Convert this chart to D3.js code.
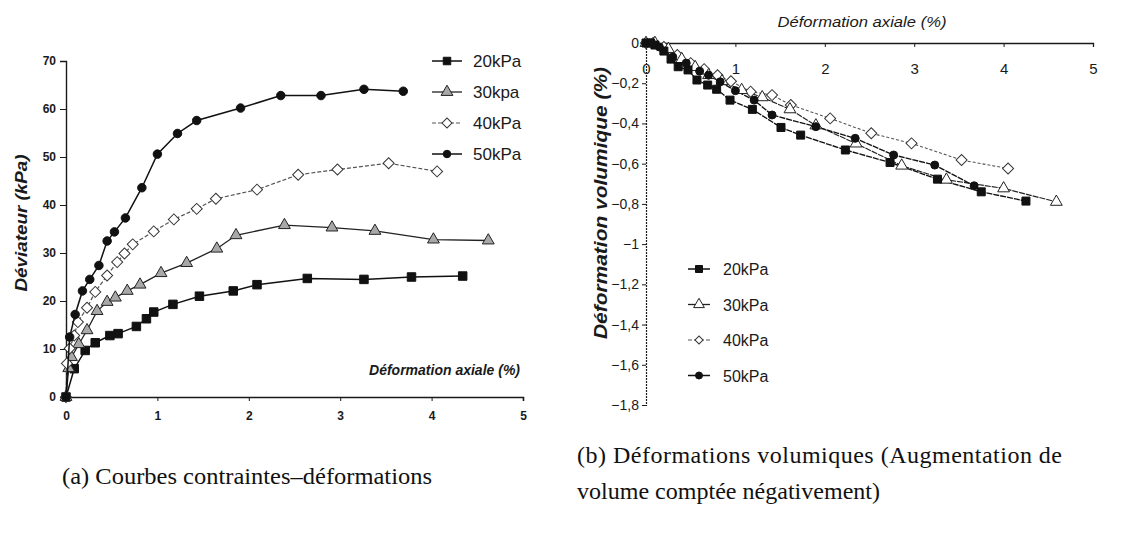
<!DOCTYPE html>
<html><head><meta charset="utf-8">
<script src="https://cdn.jsdelivr.net/npm/d3@7"></script>
<style>
html,body{margin:0;padding:0;background:#fff;}
svg{display:block;}
</style></head>
<body>
<svg id="c" width="1147" height="533"></svg>
<script>
// ---------- DATA ----------
const seriesNames = ["20kPa","30kpa","40kPa","50kPa"];
const seriesNamesB = ["20kPa","30kPa","40kPa","50kPa"];
const xTicks = [0,1,2,3,4,5];
const yTicksA = [0,10,20,30,40,50,60,70];
const yTicksB = [0,-0.2,-0.4,-0.6,-0.8,-1,-1.2,-1.4,-1.6,-1.8];

// (a) deviator stress (kPa) vs axial strain (%)
const a20 = [[0,0],[0.09,5.9],[0.21,9.7],[0.32,11.3],[0.48,12.8],[0.57,13.2],[0.77,14.7],[0.88,16.3],[0.96,17.7],[1.17,19.3],[1.46,21.0],[1.83,22.1],[2.09,23.4],[2.64,24.7],[3.26,24.5],[3.78,25.0],[4.34,25.2]];
const a30 = [[0,0],[0.03,6.0],[0.06,8.3],[0.14,11.0],[0.23,13.9],[0.34,17.9],[0.45,19.8],[0.54,20.7],[0.67,22.1],[0.81,23.4],[1.04,25.8],[1.32,27.9],[1.65,30.9],[1.86,33.7],[2.39,35.8],[2.91,35.3],[3.38,34.6],[4.02,32.8],[4.62,32.6]];
const a40 = [[0,0],[0.01,7.0],[0.04,10.1],[0.09,12.8],[0.13,15.6],[0.23,18.6],[0.32,21.9],[0.45,25.3],[0.56,28.1],[0.64,29.9],[0.73,31.8],[0.96,34.5],[1.18,37.0],[1.43,39.2],[1.64,41.3],[2.09,43.2],[2.54,46.3],[2.97,47.4],[3.53,48.7],[4.06,47.0]];
const a50 = [[0,0],[0.04,12.5],[0.10,17.2],[0.18,22.1],[0.26,24.5],[0.36,27.4],[0.45,32.5],[0.53,34.4],[0.65,37.3],[0.83,43.6],[1.0,50.6],[1.22,54.9],[1.43,57.6],[1.91,60.2],[2.35,62.8],[2.79,62.8],[3.26,64.1],[3.69,63.7]];

// (b) volumetric strain (%) vs axial strain (%)
const b20 = [[0,0],[0.05,0],[0.1,-0.01],[0.2,-0.04],[0.28,-0.08],[0.36,-0.118],[0.47,-0.134],[0.57,-0.184],[0.69,-0.209],[0.79,-0.23],[0.94,-0.284],[1.19,-0.33],[1.51,-0.42],[1.73,-0.458],[2.23,-0.532],[2.73,-0.594],[3.26,-0.677],[3.75,-0.74],[4.25,-0.786]];
const b30 = [[0,0],[0.1,0],[0.25,-0.03],[0.4,-0.08],[0.55,-0.12],[0.7,-0.16],[0.85,-0.19],[1.07,-0.234],[1.3,-0.27],[1.61,-0.33],[1.9,-0.41],[2.35,-0.5],[2.86,-0.61],[3.36,-0.68],[4.0,-0.723],[4.59,-0.79]];
const b40 = [[0,0],[0.08,0],[0.2,-0.02],[0.35,-0.06],[0.5,-0.1],[0.65,-0.13],[0.8,-0.16],[0.95,-0.19],[1.17,-0.242],[1.41,-0.259],[1.62,-0.308],[2.06,-0.375],[2.52,-0.449],[2.97,-0.499],[3.53,-0.582],[4.05,-0.624]];
const b50 = [[0,0],[0.05,0],[0.15,-0.02],[0.3,-0.07],[0.45,-0.1],[0.6,-0.14],[0.7,-0.16],[0.83,-0.193],[1.0,-0.237],[1.21,-0.284],[1.41,-0.358],[1.9,-0.416],[2.34,-0.474],[2.77,-0.557],[3.23,-0.607],[3.67,-0.71]];

const captionA = "(a) Courbes contraintes\u2013déformations";
const captionB1 = "(b) Déformations volumiques (Augmentation de";
const captionB2 = "volume comptée négativement)";
const xTitle = "Déformation axiale (%)";
const yTitleA = "Déviateur (kPa)";
const yTitleB = "Déformation volumique (%)";

// ---------- DRAW ----------
const svg = d3.select("#c");
const SANS = "'Liberation Sans', Arial, sans-serif";
const NARROW = "'Liberation Sans Narrow', 'Liberation Sans', Arial, sans-serif";
const SERIF = "'Liberation Serif', 'Times New Roman', serif";
const ink = "#1a1a1a";

const styles = [
  {shape:"square", fill:"#111", dash:null, stroke:"#111", sw:1.5},
  {shape:"triangle", fill:"#a8a8a8", dash:null, stroke:"#222", sw:1.3},
  {shape:"diamond", fill:"#fff", dash:"4,2", stroke:"#555", sw:1.2},
  {shape:"circle", fill:"#111", dash:null, stroke:"#111", sw:1.5}
];

function marker(g, shape, x, y, s, fill, stroke){
  let p;
  if(shape==="square") p = d3.symbol(d3.symbolSquare, s*s);
  else if(shape==="circle") p = d3.symbol(d3.symbolCircle, Math.PI*(s/2)*(s/2));
  else if(shape==="triangle") p = d3.symbol(d3.symbolTriangle, s*s*0.5);
  else p = d3.symbol(d3.symbolSquare, (s/1.414)*(s/1.414));
  g.append("path").attr("d", p())
    .attr("transform", `translate(${x},${y})` + (shape==="diamond"?" rotate(45)":""))
    .attr("fill", fill).attr("stroke", stroke).attr("stroke-width", 1);
}

// ===== Chart (a) =====
const xA = d3.scaleLinear().domain([0,5]).range([66,523]);
const yA = d3.scaleLinear().domain([0,70]).range([397,61]);
const gA = svg.append("g");

const axA_y = d3.axisLeft(yA).tickValues(yTicksA).tickSize(6).tickPadding(4).tickFormat(d3.format("d"));
gA.append("g").attr("transform","translate(66,0)").call(axA_y)
  .call(g=>{g.select(".domain").attr("stroke",ink).attr("stroke-width",1.4);
    g.selectAll(".tick line").attr("stroke",ink);
    g.selectAll("text").attr("font-family",SANS).attr("font-weight","bold").attr("font-size",12).attr("fill",ink);});
const axA_x = d3.axisBottom(xA).tickValues(xTicks).tickSize(4).tickPadding(10).tickFormat(d3.format("d"));
gA.append("g").attr("transform","translate(0,397)").call(axA_x)
  .call(g=>{g.select(".domain").attr("stroke",ink).attr("stroke-width",1.6);
    g.selectAll(".tick line").attr("stroke",ink);
    g.selectAll("text").attr("font-family",SANS).attr("font-weight","bold").attr("font-size",12).attr("fill",ink);});

gA.append("text").attr("x",520).attr("y",375).attr("text-anchor","end")
  .attr("font-family",SANS).attr("font-weight","bold").attr("font-style","italic")
  .attr("font-size",14).attr("fill",ink).text(xTitle);
gA.append("text").attr("transform","translate(27,223) rotate(-90)").attr("text-anchor","middle")
  .attr("font-family",SANS).attr("font-weight","bold").attr("font-style","italic")
  .attr("font-size",17).attr("textLength",137).attr("lengthAdjust","spacingAndGlyphs")
  .attr("fill",ink).text(yTitleA);

const lineA = d3.line().x(d=>xA(d[0])).y(d=>yA(d[1]));
[a20,a30,a40,a50].forEach((data,i)=>{
  const st = styles[i];
  gA.append("path").datum(data).attr("d",lineA).attr("fill","none")
    .attr("stroke",st.stroke).attr("stroke-width",st.sw).attr("stroke-dasharray",st.dash);
  const mg = gA.append("g");
  data.forEach(d=>marker(mg, st.shape, xA(d[0]), yA(d[1]), st.shape==="triangle"?11:(st.shape==="diamond"?11:8.5), st.fill, st.stroke==="#555"?"#333":st.stroke));
});

// legend (a)
const legA = gA.append("g");
seriesNames.forEach((name,i)=>{
  const st = styles[i];
  const y = 61 + i*31;
  legA.append("line").attr("x1",432).attr("x2",462).attr("y1",y).attr("y2",y)
    .attr("stroke",st.stroke).attr("stroke-width",st.sw).attr("stroke-dasharray",st.dash);
  marker(legA, st.shape, 447, y, st.shape==="triangle"?11:(st.shape==="diamond"?10:7.5), st.fill, st.stroke==="#555"?"#333":st.stroke);
  legA.append("text").attr("x",473).attr("y",y+6).attr("font-family",SANS)
    .attr("font-size",17).attr("fill",ink).text(name);
});

// ===== Chart (b) =====
const xB = d3.scaleLinear().domain([0,5]).range([646,1093]);
const yB = d3.scaleLinear().domain([-1.8,0]).range([405,43]);
const gB = svg.append("g");
const fmtB = d=> d===0 ? "0" : d3.format("~g")(d).replace(".",",");

const axB_y = d3.axisLeft(yB).tickValues(yTicksB).tickSize(4).tickPadding(3).tickFormat(fmtB);
gB.append("g").attr("transform","translate(646,0)").call(axB_y)
  .call(g=>{g.select(".domain").attr("stroke",ink).attr("stroke-width",1.2).attr("stroke-dasharray","2,1");
    g.selectAll(".tick line").attr("stroke",ink);
    g.selectAll("text").attr("font-family",NARROW).attr("font-size",14).attr("fill",ink);});
const axB_x = d3.axisBottom(xB).tickValues(xTicks).tickSize(4).tickPadding(16).tickFormat(d3.format("d"));
gB.append("g").attr("transform","translate(0,43)").call(axB_x)
  .call(g=>{g.select(".domain").attr("stroke",ink).attr("stroke-width",1.3);
    g.selectAll(".tick line").attr("stroke",ink);
    g.selectAll("text").attr("font-family",SANS).attr("font-size",15).attr("fill",ink);});

gB.append("text").attr("x",862).attr("y",27).attr("text-anchor","middle")
  .attr("font-family",SANS).attr("font-style","italic")
  .attr("font-size",15).attr("textLength",169).attr("lengthAdjust","spacingAndGlyphs")
  .attr("fill",ink).text(xTitle);
gB.append("text").attr("transform","translate(607,203) rotate(-90)").attr("text-anchor","middle")
  .attr("font-family",SANS).attr("font-weight","bold").attr("font-style","italic")
  .attr("font-size",18).attr("textLength",272).attr("lengthAdjust","spacingAndGlyphs")
  .attr("fill",ink).text(yTitleB);

const lineB = d3.line().x(d=>xB(d[0])).y(d=>yB(d[1]));
const stylesB = styles.map((s,i)=> i===1 ? Object.assign({}, s, {fill:"#fff"}) : s);
[b20,b30,b40,b50].forEach((data,i)=>{
  const st = stylesB[i];
  gB.append("path").datum(data).attr("d",lineB).attr("fill","none")
    .attr("stroke",st.stroke).attr("stroke-width",st.sw*0.9).attr("stroke-dasharray", i===2 ? "3,2" : "6,1");
});
[b40,b30,b20,b50].forEach((data,k)=>{
  const i = [2,1,0,3][k];
  const st = stylesB[i];
  const mg = gB.append("g");
  data.forEach(d=>marker(mg, st.shape, xB(d[0]), yB(d[1]), st.shape==="triangle"?11:(st.shape==="diamond"?11:8), st.fill, st.stroke==="#555"?"#333":st.stroke));
});

// legend (b)
const legB = gB.append("g");
seriesNamesB.forEach((name,i)=>{
  const st = stylesB[i];
  const y = 269 + i*35.5;
  legB.append("line").attr("x1",688).attr("x2",710).attr("y1",y).attr("y2",y)
    .attr("stroke",st.stroke).attr("stroke-width",st.sw).attr("stroke-dasharray",st.dash);
  marker(legB, st.shape, 699, y, st.shape==="triangle"?10:(st.shape==="diamond"?8:7), st.fill, st.stroke==="#555"?"#333":st.stroke);
  legB.append("text").attr("x",723).attr("y",y+6).attr("font-family",SANS)
    .attr("font-size",16).attr("fill",ink).text(name);
});

// ===== Captions =====
svg.append("text").attr("x",62).attr("y",484).attr("font-family",SERIF).attr("font-size",24)
  .attr("textLength",370).attr("lengthAdjust","spacingAndGlyphs").attr("fill","#111").text(captionA);
svg.append("text").attr("x",577).attr("y",463).attr("font-family",SERIF).attr("font-size",24)
  .attr("textLength",485).attr("lengthAdjust","spacing").attr("fill","#111").text(captionB1);
svg.append("text").attr("x",577).attr("y",499).attr("font-family",SERIF).attr("font-size",24)
  .attr("textLength",303).attr("lengthAdjust","spacingAndGlyphs").attr("fill","#111").text(captionB2);
</script>
</body></html>
